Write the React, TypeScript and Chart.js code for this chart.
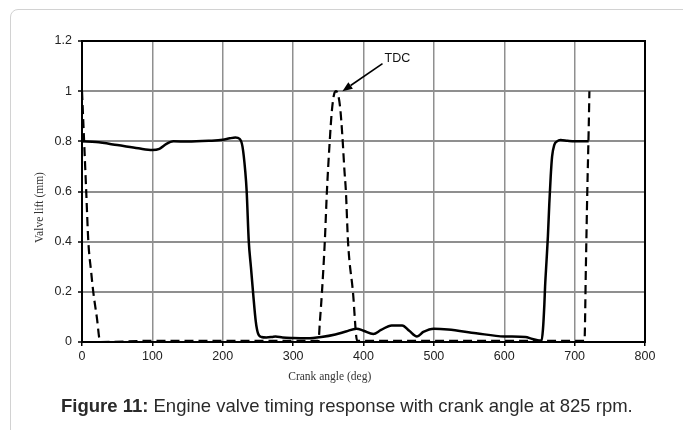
import React, { useEffect, useRef } from "react";
import { Chart, registerables } from "chart.js";

Chart.register(...registerables);

// Solid curve: crank angle (deg) and valve lift (mm)
const solidAngle = [
  0, 20, 50, 80, 100, 110, 120, 130, 150, 180, 200, 210, 218, 224, 228, 232, 234,
  237, 240, 243, 247, 250, 255, 262, 270, 275, 285, 300, 320, 340, 360, 375, 390,
  400, 414, 425, 440, 455, 465, 476, 485, 500, 520, 560, 600, 630, 640, 653, 655,
  657, 658, 660, 662, 664, 666, 668, 671, 675, 680, 690, 700, 720,
];
const solidLift = [
  0.8, 0.797, 0.785, 0.772, 0.765, 0.77, 0.79, 0.8, 0.799, 0.802, 0.806, 0.812,
  0.815, 0.81, 0.78, 0.68, 0.6, 0.4, 0.3, 0.2, 0.08, 0.035, 0.02, 0.018, 0.02,
  0.022, 0.018, 0.016, 0.015, 0.02, 0.03, 0.042, 0.053, 0.045, 0.032, 0.048, 0.066,
  0.066, 0.045, 0.022, 0.04, 0.053, 0.05, 0.035, 0.022, 0.02, 0.012, 0.005, 0.05,
  0.15, 0.22, 0.32, 0.42, 0.55, 0.66, 0.74, 0.785, 0.8, 0.805, 0.802, 0.8, 0.8,
];

// Dashed curve
const dashedAngle = [
  0, 3, 6, 9, 13, 16, 21, 26, 100, 336, 338, 341, 345, 348, 352, 355, 358, 361,
  364, 367, 370, 373, 375, 378, 385, 391, 714, 716, 718, 720, 721,
];
const dashedLift = [
  1.0, 0.8, 0.6, 0.4, 0.28, 0.2, 0.1, 0.0, 0.005, 0.005, 0.08, 0.2, 0.4, 0.6, 0.8,
  0.92, 0.985, 1.0, 0.985, 0.93, 0.82, 0.68, 0.6, 0.4, 0.2, 0.005, 0.005, 0.3, 0.6,
  0.85, 1.0,
];

const xMin = 0;
const xMax = 800;
const xStep = 100;
const yMin = 0;
const yMax = 1.2;
const yStep = 0.2;

const xTitle = "Crank angle (deg)";
const yTitle = "Valve lift (mm)";
const tdcLabel = "TDC";
const tdcTip = [370, 1.0];
const tdcTail = [427, 1.11];
const tdcText = [430, 1.13];
const xTitleAt = 352;

const captionBold = "Figure 11:";
const captionText = " Engine valve timing response with crank angle at 825 rpm.";

const decorPlugin = {
  id: "decor",
  afterDraw(chart: any) {
    const { ctx, chartArea: a, scales } = chart;
    const xs = scales.x;
    const ys = scales.y;
    ctx.save();
    // plot frame
    ctx.strokeStyle = "#000";
    ctx.lineWidth = 2;
    ctx.strokeRect(a.left, a.top, a.right - a.left, a.bottom - a.top);

    // TDC arrow
    const tx = xs.getPixelForValue(tdcTip[0]);
    const ty = ys.getPixelForValue(tdcTip[1]);
    const sx = xs.getPixelForValue(tdcTail[0]);
    const sy = ys.getPixelForValue(tdcTail[1]);
    const ang = Math.atan2(ty - sy, tx - sx);
    const headLen = 10;
    const headW = 4;
    const bx = tx - headLen * Math.cos(ang);
    const by = ty - headLen * Math.sin(ang);
    ctx.strokeStyle = "#000";
    ctx.lineWidth = 1.6;
    ctx.beginPath();
    ctx.moveTo(sx, sy);
    ctx.lineTo(bx, by);
    ctx.stroke();
    ctx.fillStyle = "#000";
    ctx.beginPath();
    ctx.moveTo(tx, ty);
    ctx.lineTo(bx + headW * Math.sin(ang), by - headW * Math.cos(ang));
    ctx.lineTo(bx - headW * Math.sin(ang), by + headW * Math.cos(ang));
    ctx.closePath();
    ctx.fill();

    // TDC label
    ctx.fillStyle = "#111";
    ctx.font = "12.5px 'Liberation Sans', Arial, sans-serif";
    ctx.textAlign = "left";
    ctx.textBaseline = "middle";
    ctx.fillText(tdcLabel, xs.getPixelForValue(tdcText[0]), ys.getPixelForValue(tdcText[1]));

    // axis titles
    ctx.fillStyle = "#333";
    ctx.font = "11.5px 'Liberation Serif', 'Times New Roman', serif";
    ctx.textAlign = "center";
    ctx.textBaseline = "middle";
    ctx.fillText(xTitle, xs.getPixelForValue(xTitleAt), a.bottom + 35);
    ctx.translate(a.left - 42, (a.top + a.bottom) / 2 + 16);
    ctx.rotate(-Math.PI / 2);
    ctx.fillText(yTitle, 0, 0);
    ctx.restore();
  },
};

function ValveChart() {
  const ref = useRef<HTMLCanvasElement | null>(null);
  useEffect(() => {
    if (!ref.current) return;
    const chart = new Chart(ref.current, {
      type: "line",
      data: {
        datasets: [
          {
            label: "Solid",
            data: solidAngle.map((v, i) => ({ x: v, y: solidLift[i] })),
            borderColor: "#000",
            borderWidth: 2.5,
            pointRadius: 0,
            fill: false,
            cubicInterpolationMode: "monotone",
          },
          {
            label: "Dashed",
            data: dashedAngle.map((v, i) => ({ x: v, y: dashedLift[i] })),
            borderColor: "#000",
            borderWidth: 2.2,
            borderDash: [9, 5],
            pointRadius: 0,
            fill: false,
            cubicInterpolationMode: "monotone",
          },
        ],
      },
      options: {
        animation: false,
        responsive: false,
        events: [],
        layout: { padding: { left: 0, top: 41, right: 38, bottom: 0 } },
        plugins: {
          legend: { display: false },
          tooltip: { enabled: false },
        },
        scales: {
          x: {
            type: "linear",
            min: xMin,
            max: xMax,
            afterFit: (s: any) => {
              s.height = 88;
            },
            ticks: {
              stepSize: xStep,
              padding: 3,
              color: "#222",
              font: { family: "'Liberation Sans', Arial, sans-serif", size: 12.5 },
              maxRotation: 0,
            },
            grid: {
              color: "#8f8f8f",
              lineWidth: 1.5,
              tickLength: 4,
              tickColor: "#000",
              tickWidth: 1.5,
            },
            border: { color: "#000", width: 2 },
          },
          y: {
            type: "linear",
            min: yMin,
            max: yMax,
            afterFit: (s: any) => {
              s.width = 82;
            },
            ticks: {
              stepSize: yStep,
              padding: 6,
              color: "#222",
              font: { family: "'Liberation Sans', Arial, sans-serif", size: 12.5 },
              callback: (v: any) => String(Math.round(Number(v) * 10) / 10),
            },
            grid: {
              color: "#8f8f8f",
              lineWidth: 2,
              tickLength: 4,
              tickColor: "#000",
              tickWidth: 1.5,
            },
            border: { color: "#000", width: 2 },
          },
        },
      },
      plugins: [decorPlugin],
    });
    return () => chart.destroy();
  }, []);
  return (
    <canvas
      ref={ref}
      width={683}
      height={430}
      style={{ position: "absolute", left: 0, top: 0, width: 683, height: 430 }}
    />
  );
}

export default function App() {
  return (
    <div
      style={{
        position: "fixed",
        left: 0,
        top: 0,
        width: 683,
        height: 430,
        overflow: "hidden",
        background: "#fff",
      }}
    >
      <div
        style={{
          position: "absolute",
          left: 10,
          top: 9,
          width: 720,
          height: 470,
          border: "1px solid #d2d2d2",
          borderRadius: 8,
          boxSizing: "border-box",
        }}
      />
      <ValveChart />
      <div
        style={{
          position: "absolute",
          left: 61,
          top: 397,
          whiteSpace: "nowrap",
          fontFamily: "'Liberation Sans', Arial, sans-serif",
          fontSize: 18.5,
          lineHeight: "18.5px",
          color: "#2a2a2a",
        }}
      >
        <b>{captionBold}</b>
        {captionText}
      </div>
    </div>
  );
}
